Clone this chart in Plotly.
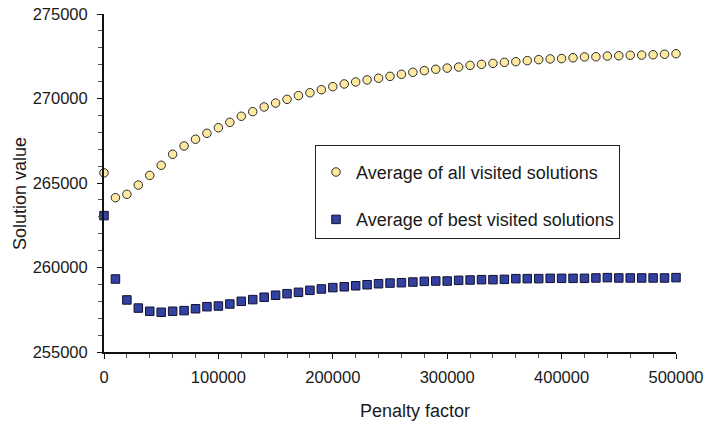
import plotly.graph_objects as go

# Penalty factor sampled every 10000 from 0 to 500000
penalty = list(range(0, 500001, 10000))

avg_all = [
    265600, 264130, 264330, 264880, 265450, 266050, 266700, 267190, 267590, 267940,
    268270, 268590, 268950, 269220, 269500, 269730, 269950, 270170, 270340, 270520,
    270700, 270860, 270980, 271100, 271200, 271310, 271430, 271550, 271650, 271730,
    271800, 271860, 271960, 272020, 272080, 272140, 272180, 272240, 272300, 272340,
    272360, 272410, 272460, 272470, 272510, 272530, 272560, 272570, 272590, 272620,
    272650,
]

avg_best = [
    263070, 259320, 258080, 257600, 257410, 257350, 257410, 257450, 257560, 257680,
    257720, 257840, 258000, 258100, 258240, 258360, 258450, 258530, 258650, 258730,
    258810, 258860, 258920, 258980, 259040, 259080, 259100, 259140, 259180, 259200,
    259200, 259240, 259260, 259280, 259280, 259300, 259340, 259340, 259340, 259360,
    259360, 259360, 259360, 259380, 259400, 259380, 259380, 259380, 259380, 259380,
    259400,
]

FONT = "Liberation Sans, Arial, sans-serif"
TEXT = "#1a1a1a"
W, H = 704, 422
L, R, T, B = 104, 28, 14, 70

fig = go.Figure()

fig.add_trace(go.Scatter(
    x=penalty, y=avg_all, mode="markers", name="Average of all visited solutions",
    marker=dict(symbol="circle", size=8.5, color="#FFE9A0",
                line=dict(color="#2a2a2a", width=1)),
    cliponaxis=False, legendgroup="a",
))
fig.add_trace(go.Scatter(
    x=penalty, y=avg_best, mode="markers", name="Average of best visited solutions",
    marker=dict(symbol="square", size=8.5, color="#3341A0",
                line=dict(color="#111133", width=1)),
    cliponaxis=False, legendgroup="b",
))

plot_w = W - L - R
plot_h = H - T - B


def px_x(p):
    return (p - L) / plot_w


def px_y(p):
    return (H - B - p) / plot_h


fig.update_layout(
    width=W, height=H,
    margin=dict(l=L, r=R, t=T, b=B),
    paper_bgcolor="white", plot_bgcolor="white",
    font=dict(family=FONT, size=16, color=TEXT),
    showlegend=True,
    legend=dict(
        x=px_x(315), y=px_y(145), xanchor="left", yanchor="top",
        bordercolor="#222222", borderwidth=1, bgcolor="white",
        font=dict(family=FONT, size=18, color=TEXT),
        title=dict(text=" ", font=dict(size=6)),
        tracegroupgap=21, itemwidth=30,
    ),
    xaxis=dict(
        range=[0, 500000], dtick=100000, tick0=0, automargin=False,
        showgrid=False, zeroline=False,
        showline=True, linecolor="#111111", linewidth=2,
        ticks="outside", ticklen=5, tickwidth=1, tickcolor="#111111",
        minor=dict(dtick=20000, ticks="outside", ticklen=4, tickwidth=1,
                   tickcolor="#555555", showgrid=False),
        tickformat="d", tickfont=dict(size=16.5, color=TEXT),
        ticklabelstandoff=4,
    ),
    yaxis=dict(
        range=[255000, 275000], dtick=5000, tick0=255000, automargin=False,
        showgrid=False, zeroline=False,
        showline=True, linecolor="#111111", linewidth=2,
        ticks="outside", ticklen=5, tickwidth=1, tickcolor="#111111",
        minor=dict(dtick=1000, ticks="outside", ticklen=4, tickwidth=1,
                   tickcolor="#555555", showgrid=False),
        tickformat="d", tickfont=dict(size=16.5, color=TEXT),
        ticklabelstandoff=6,
    ),
    annotations=[
        dict(text="Penalty factor", xref="paper", yref="paper",
             x=px_x(415), y=px_y(411), xanchor="center", yanchor="middle",
             showarrow=False, font=dict(size=18, color=TEXT)),
        dict(text="Solution value", xref="paper", yref="paper",
             x=px_x(20), y=px_y(194), xanchor="center", yanchor="middle",
             textangle=-90, showarrow=False, font=dict(size=18, color=TEXT)),
    ],
)

fig.write_html("out.html")
